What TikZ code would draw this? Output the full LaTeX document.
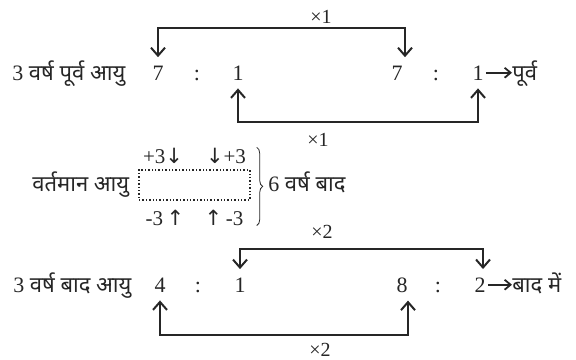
\documentclass[tikz,border=0pt]{standalone}
\usepackage{fontspec}
\setmainfont{Liberation Serif}
\newfontfamily\dev[Script=Devanagari]{Noto Sans}
\newfontfamily\symb{DejaVu Sans}
\usetikzlibrary{arrows.meta, decorations.pathreplacing}
\definecolor{inkGrey}{HTML}{262626}

\begin{document}
\begin{tikzpicture}[x=0.5pt, y=-0.5pt, font=\fontsize{11}{13}\selectfont, text=inkGrey,
  num/.style={anchor=base, inner xsep=1pt, inner ysep=4pt},
  lbl/.style={anchor=base west, inner sep=0pt},
  mult/.style={font=\fontsize{10}{12}\selectfont, inner sep=1pt},
  shiftlbl/.style={anchor=base, font=\fontsize{10.5}{12}\selectfont, inner sep=0pt},
  brk/.style={draw=inkGrey, line width=1pt,
    {Straight Barb[length=4pt,width=7pt]}-{Straight Barb[length=4pt,width=7pt]}},
  pt/.style={draw=inkGrey, line width=0.9pt, -{Straight Barb[length=3pt,width=5pt]}},
  brace/.style={draw=inkGrey, thin, decorate, decoration={brace, amplitude=3pt}}]
\useasboundingbox (0,0) rectangle (576,359);

% 3 years ago
\node[lbl] (agoL) at (12,80) {3 {\dev वर्ष पूर्व आयु}};
\node[num] (agoA) at (158,80) {7};
\node[num] (agoC) at (197,80) {:};
\node[num] (agoB) at (238,80) {1};
\node[num] (agoD) at (397,80) {7};
\node[num] (agoE) at (436,80) {:};
\node[num] (agoF) at (478,80) {1};
\node[lbl] (agoW) at (512,80) {\dev पूर्व};
\draw[pt] (agoF.east) -- (agoF.east -| agoW.west);

\draw[brk] (agoA.north) -- ++(0,-29) -| ([xshift=4pt]agoD.north);
\draw[brk] (agoB.south) -- ++(0,34) -| (agoF.south);
\node[mult] (mulA) at (321,17) {×1};
\node[mult] (mulB) at (318,140) {×1};

% present
\node[lbl] (nowL) at (32,191) {\dev वर्तमान आयु};
\node[draw=inkGrey, densely dotted, line width=0.7pt, minimum width=55.5pt,
  minimum height=15pt, inner sep=0pt] (nowBox) at (194.5,185) {};
\node[shiftlbl] (pu1) at (163,163) {+3{\symb ↓}};
\node[shiftlbl] (pu2) at (226,163) {{\symb ↓}+3};
\node[shiftlbl] (md1) at (165,225) {-3\,{\symb ↑}};
\node[shiftlbl] (md2) at (224,225) {{\symb ↑}\,-3};
\draw[brace] ([xshift=3pt]nowBox.east |- pu2.north) -- ([xshift=3pt]nowBox.east |- md2.south);
\node[lbl] (gapL) at (268,191) {6 {\dev वर्ष बाद}};

% 3 years later
\node[lbl] (aftL) at (13,292) {3 {\dev वर्ष बाद आयु}};
\node[num] (aftA) at (160,292) {4};
\node[num] (aftC) at (198,292) {:};
\node[num] (aftB) at (240,292) {1};
\node[num] (aftD) at (402,292) {8};
\node[num] (aftE) at (438,292) {:};
\node[num] (aftF) at (480,292) {2};
\node[lbl] (aftW) at (512,292) {\dev बाद में};
\draw[pt] (aftF.east) -- (aftF.east -| aftW.west);

\draw[brk] (aftB.north) -- ++(0,-20) -| ([xshift=1.5pt]aftF.north);
\draw[brk] (aftA.south) -- ++(0,35) -| ([xshift=3pt]aftD.south);
\node[mult] (mulC) at (322,232) {×2};
\node[mult] (mulD) at (320,350) {×2};

\end{tikzpicture}
\end{document}
